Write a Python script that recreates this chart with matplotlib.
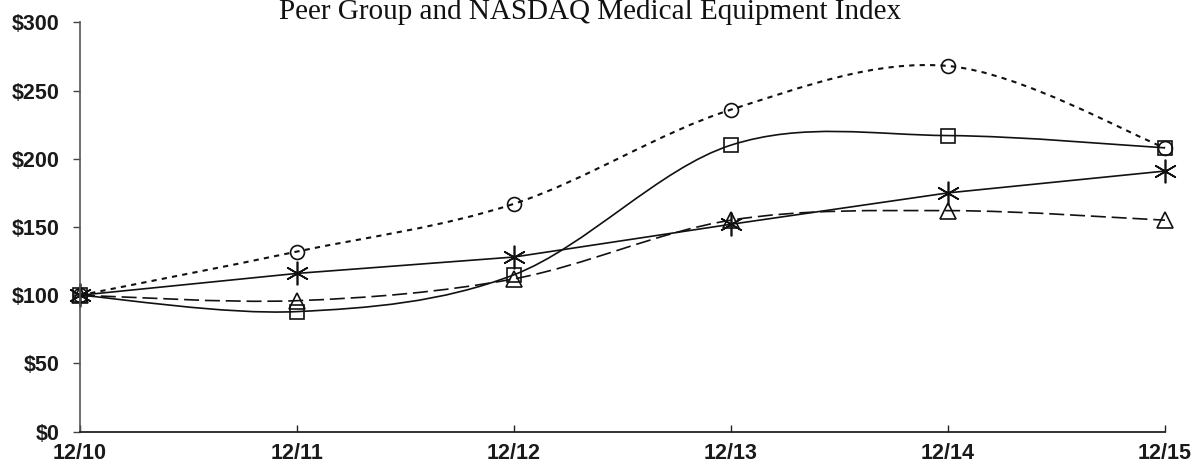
import numpy as np
import matplotlib
matplotlib.use('Agg')
import matplotlib.pyplot as plt
from matplotlib.path import Path
from matplotlib.patches import PathPatch

# tick labels / categories
years = ['12/10', '12/11', '12/12', '12/13', '12/14', '12/15']
y_ticks = [0, 50, 100, 150, 200, 250, 300]

# series values (indexed to $100)
circle_vals = [100, 132, 167, 236, 268, 208]     # dotted, smoothed
square_vals = [100, 88, 115, 210, 217, 208]      # solid, smoothed
star_vals = [100, 116, 128, 152, 175, 191]       # solid, straight
triangle_vals = [100, 96, 112, 155, 162, 155]    # dashed, smoothed

title = 'Peer Group and NASDAQ Medical Equipment Index'


def smooth_path(xs, ys):
    # excel style smoothed line: cubic bezier through every point
    pts = np.column_stack([xs, ys]).astype(float)
    n = len(pts)
    verts = [pts[0]]
    codes = [Path.MOVETO]
    for i in range(n - 1):
        p0 = pts[max(i - 1, 0)]
        p1 = pts[i]
        p2 = pts[i + 1]
        p3 = pts[min(i + 2, n - 1)]
        verts += [p1 + (p2 - p0) / 6, p2 - (p3 - p1) / 6, p2]
        codes += [Path.CURVE4] * 3
    return Path(verts, codes)


fig = plt.figure(figsize=(11.92, 4.68), dpi=100)
ax = fig.add_axes([80 / 1192, 36.3 / 468, 1085 / 1192, 409.4 / 468])

x = np.arange(len(years))
ink = '#111111'

# smoothed lines
for vals, ls, lw in [(circle_vals, (0, (2.5, 2.5)), 1.5),
                     (square_vals, '-', 1.2),
                     (triangle_vals, (0, (9, 3.5)), 1.2)]:
    patch = PathPatch(smooth_path(x, vals), fill=False, edgecolor=ink,
                      linewidth=lw, linestyle=ls, clip_on=False)
    patch.set_capstyle('butt')
    ax.add_patch(patch)

# straight line
ax.plot(x, star_vals, color=ink, lw=1.2, clip_on=False)

# markers
mk = dict(linestyle='none', markerfacecolor='none', markeredgecolor=ink,
          markeredgewidth=1.2, clip_on=False)
ax.plot(x, circle_vals, marker='o', markersize=10, **mk)
ax.plot(x, square_vals, marker='s', markersize=10, **mk)
ax.plot(x, triangle_vals, marker='^', markersize=11, **mk)
ax.plot(x, star_vals, marker=(6, 2, 0), markersize=17, **mk)

ax.set_xlim(0, len(years) - 1)
ax.set_ylim(0, 300)
ax.set_xticks(x)
ax.set_xticklabels(years)
ax.set_yticks(y_ticks)
ax.set_yticklabels(['$%d' % v for v in y_ticks])

for lab in ax.get_xticklabels() + ax.get_yticklabels():
    lab.set_fontfamily('Liberation Sans')
    lab.set_fontweight('bold')
    lab.set_fontsize(15.5)
    lab.set_color('#1a1a1a')

ax.tick_params(axis='y', direction='out', length=5, width=1, color='#444444', pad=10)
ax.tick_params(axis='x', direction='in', length=5, width=1, color='#222222', pad=8)

for s in ['top', 'right']:
    ax.spines[s].set_visible(False)
ax.spines['left'].set_color('#555555')
ax.spines['left'].set_linewidth(1.2)
ax.spines['bottom'].set_color('#222222')
ax.spines['bottom'].set_linewidth(1.3)

fig.text(590 / 1192, 1 - 19 / 468, title, ha='center', va='baseline',
         fontfamily='Liberation Serif', fontsize=21, color='#111111')

fig.savefig('out.png', dpi=100)
